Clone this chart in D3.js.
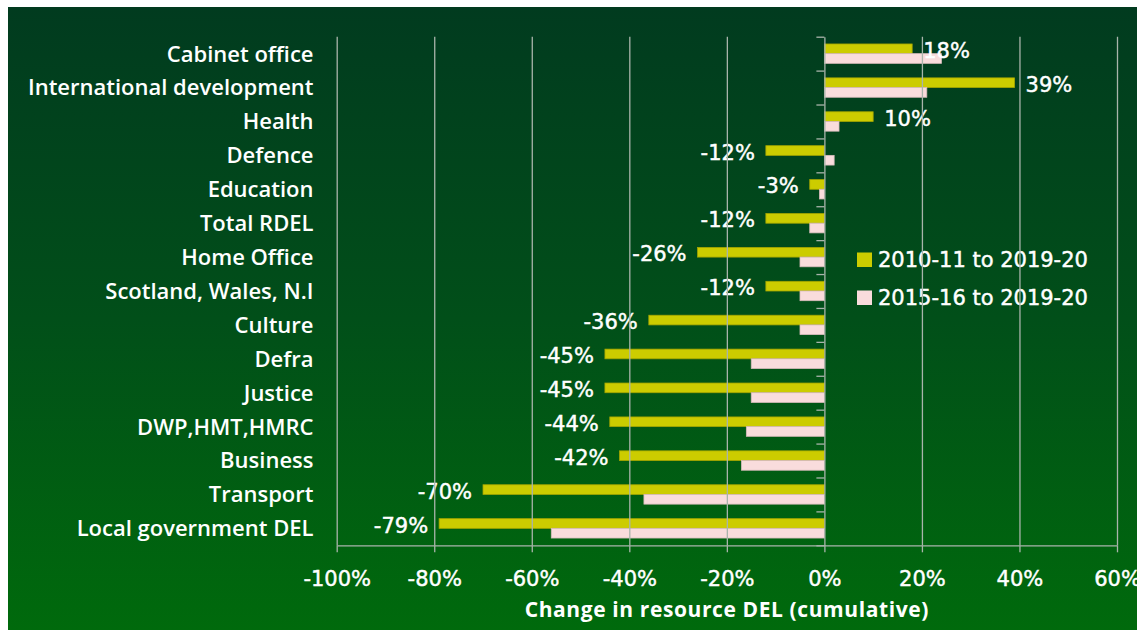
<!DOCTYPE html>
<html>
<head>
<meta charset="utf-8">
<script src="https://cdn.jsdelivr.net/npm/d3@7"></script>
<style>
  html, body { margin: 0; padding: 0; background: #fff; }
  svg { display: block; font-family: 'Open Sans', sans-serif; }
</style>
</head>
<body>
<svg id="chart" width="1144" height="630"></svg>
<script>
// data
const categories = [
  'Cabinet office', 'International development', 'Health', 'Defence', 'Education',
  'Total RDEL', 'Home Office', 'Scotland, Wales, N.I', 'Culture', 'Defra',
  'Justice', 'DWP,HMT,HMRC', 'Business', 'Transport', 'Local government DEL'
];
const seriesNames = ['2010-11 to 2019-20', '2015-16 to 2019-20'];
const change2010 = [18, 39, 10, -12, -3, -12, -26, -12, -36, -45, -45, -44, -42, -70, -79];
const change2015 = [24, 21, 3, 2, -1, -3, -5, -5, -5, -15, -15, -16, -17, -37, -56];
const xTicks = [-100, -80, -60, -40, -20, 0, 20, 40, 60];

const colors = ['#cccc00', '#f9dcdc'];
const strokes = ['#a5a500', '#d9bcbc'];
const numFont = "'DejaVu Sans', sans-serif";
const lineCol = '#a9b4ab';

const svg = d3.select('#chart');

// background panel with gradient
const grad = svg.append('defs').append('linearGradient')
  .attr('id', 'bg').attr('x1', 0).attr('y1', 0).attr('x2', 0).attr('y2', 1);
grad.append('stop').attr('offset', '0%').attr('stop-color', '#013b1f');
grad.append('stop').attr('offset', '50%').attr('stop-color', '#014f19');
grad.append('stop').attr('offset', '100%').attr('stop-color', '#006a0c');

svg.append('rect')
  .attr('x', 8).attr('y', 7)
  .attr('width', 1129).attr('height', 623)
  .attr('fill', 'url(#bg)');

const margin = { top: 36.7, left: 336.7, right: 1117, bottom: 545.3 };

const x = d3.scaleLinear()
  .domain([-100, 60])
  .range([margin.left, margin.right]);

const y = d3.scaleBand()
  .domain(categories)
  .range([margin.top, margin.bottom]);

const ySub = d3.scaleBand()
  .domain(seriesNames)
  .range([0, y.bandwidth()])
  .paddingOuter(0.75);

const rows = categories.map((c, i) => ({ cat: c, vals: [change2010[i], change2015[i]] }));

// slightly heavier white text, like the original
const thick = sel => sel.attr('fill', '#fff').attr('stroke', '#fff').attr('stroke-width', 0.45);

// bars
const groups = svg.append('g').selectAll('g')
  .data(rows)
  .join('g')
  .attr('transform', d => `translate(0,${y(d.cat)})`);

groups.selectAll('rect')
  .data(d => d.vals.map((v, k) => ({ v, k })))
  .join('rect')
  .attr('x', d => x(Math.min(0, d.v)))
  .attr('y', d => ySub(seriesNames[d.k]))
  .attr('width', d => Math.abs(x(d.v) - x(0)))
  .attr('height', ySub.bandwidth())
  .attr('fill', d => colors[d.k])
  .attr('stroke', d => strokes[d.k])
  .attr('stroke-width', 0.8);

// value labels for the first series
groups.append('text')
  .attr('x', d => d.vals[0] >= 0 ? x(d.vals[0]) + 11 : x(d.vals[0]) - 11)
  .attr('y', ySub(seriesNames[0]) + ySub.bandwidth() / 2 + 1.5)
  .attr('dy', '0.36em')
  .attr('text-anchor', d => d.vals[0] >= 0 ? 'start' : 'end')
  .attr('font-family', numFont)
  .attr('font-size', 21)
  .call(thick)
  .text(d => d.vals[0] + '%');

// legend
const legend = svg.append('g').selectAll('g')
  .data(seriesNames)
  .join('g')
  .attr('transform', (d, i) => `translate(857,${252.5 + i * 38})`);

legend.append('rect')
  .attr('width', 15).attr('height', 14.5)
  .attr('fill', (d, i) => colors[i]);

legend.append('text')
  .attr('x', 21)
  .attr('y', 7)
  .attr('dy', '0.36em')
  .attr('font-family', numFont)
  .attr('font-size', 21)
  .call(thick)
  .text(d => d);

// gridlines (they sit over the legend text in the original)
svg.append('g')
  .attr('transform', `translate(0,${margin.bottom})`)
  .call(d3.axisBottom(x).tickValues(xTicks.filter(v => v !== 0)).tickSize(-(margin.bottom - margin.top)).tickFormat(''))
  .call(g => g.select('.domain').remove())
  .call(g => g.selectAll('line').attr('stroke', lineCol).attr('stroke-width', 1.3));

// vertical axis at zero with ticks on band edges
const yEdges = d3.scaleLinear().domain([0, categories.length]).range([margin.top, margin.bottom]);
svg.append('g')
  .attr('transform', `translate(${x(0)},0)`)
  .call(d3.axisLeft(yEdges).tickValues(d3.range(categories.length + 1)).tickSize(8).tickSizeOuter(0).tickFormat(''))
  .call(g => g.selectAll('line').attr('stroke', lineCol).attr('stroke-width', 1.3))
  .call(g => g.select('.domain').attr('stroke', lineCol).attr('stroke-width', 1.3));

// category labels
svg.append('g').selectAll('text')
  .data(categories)
  .join('text')
  .attr('x', 313.5)
  .attr('y', d => y(d) + y.bandwidth() / 2)
  .attr('dy', '0.36em')
  .attr('text-anchor', 'end')
  .attr('fill', '#fff')
  .attr('font-size', 22)
  .attr('font-weight', 600)
  .text(d => d);

// x axis
svg.append('g')
  .attr('transform', `translate(0,${margin.bottom})`)
  .call(d3.axisBottom(x).tickValues(xTicks).tickSize(7).tickSizeOuter(0).tickFormat(d => d + '%'))
  .call(g => g.select('.domain').attr('stroke', lineCol).attr('stroke-width', 1.3))
  .call(g => g.selectAll('line').attr('stroke', lineCol).attr('stroke-width', 1.3))
  .call(g => g.selectAll('text')
    .attr('y', 33)
    .attr('dy', '0.36em')
    .attr('font-size', 21)
    .attr('font-family', numFont)
    .call(thick));

svg.append('text')
  .attr('x', (margin.left + margin.right) / 2)
  .attr('y', 609)
  .attr('dy', '0.36em')
  .attr('text-anchor', 'middle')
  .attr('fill', '#fff')
  .attr('font-size', 21)
  .attr('font-weight', 700)
  .attr('letter-spacing', 0.6)
  .text('Change in resource DEL (cumulative)');
</script>
</body>
</html>
